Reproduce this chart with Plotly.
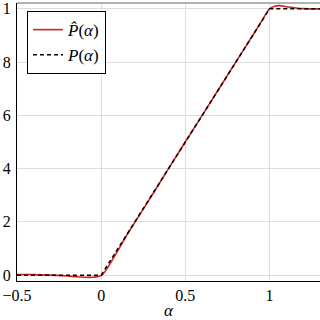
import plotly.graph_objects as go

# Data
alpha_true = [-0.5, 0.0, 1.0, 1.3]
p_true = [0.0, 0.0, 1.0, 1.0]

alpha_est = [-0.5, -0.4, -0.3, -0.2, -0.15, -0.1, -0.05, 0.0, 0.03, 0.06, 0.1, 0.15,
             0.2, 0.3, 0.4, 0.5, 0.6, 0.7, 0.8, 0.9, 0.95, 0.98, 1.0, 1.03, 1.06,
             1.1, 1.15, 1.2, 1.3]
p_est = [0.002, 0.002, 0.0, -0.003, -0.006, -0.008, -0.008, -0.002, 0.02, 0.05, 0.093,
         0.148, 0.198, 0.298, 0.4, 0.5, 0.6, 0.7, 0.8, 0.9, 0.95, 0.982, 1.0, 1.01,
         1.012, 1.008, 1.004, 1.001, 1.0]

x_ticks = [-0.5, 0, 0.5, 1]
x_labels = ["\u22120.5", "0", "0.5", "1"]
y_ticks = [0, 0.2, 0.4, 0.6, 0.8, 1]
y_labels = ["0", "2", "4", "6", "8", "1"]

font = "Times New Roman, Liberation Serif, serif"

fig = go.Figure()
fig.add_trace(go.Scatter(x=alpha_est, y=p_est, mode="lines", line_shape="spline",
                         line=dict(color="#d62020", width=1.6),
                         name="<i>P\u0302</i>(<i>\u03b1</i>)"))
fig.add_trace(go.Scatter(x=alpha_true, y=p_true, mode="lines",
                         line=dict(color="black", width=1.5, dash="4px,3px"),
                         name="<i>P</i>(<i>\u03b1</i>)"))

fig.update_layout(
    width=320, height=320,
    margin=dict(l=17, r=0, t=1, b=39),
    paper_bgcolor="white", plot_bgcolor="white",
    font=dict(family=font, size=16, color="black"),
    showlegend=True,
    legend=dict(x=0.033, y=0.971, xanchor="left", yanchor="top",
                bgcolor="white", bordercolor="black", borderwidth=1,
                font=dict(family=font, size=17), itemwidth=30,
                tracegroupgap=0),
    xaxis=dict(range=[-0.5, 1.3], tickvals=x_ticks, ticktext=x_labels,
               showgrid=True, gridcolor="#dddddd", gridwidth=1,
               zeroline=False, showline=True, linecolor="black", linewidth=1,
               ticks="", tickfont=dict(family=font, size=16),
               ticklabeloverflow="allow",
               title=dict(text="<i>\u03b1</i>", standoff=4, font=dict(family=font, size=17))),
    yaxis=dict(range=[-0.022, 1.022], tickvals=y_ticks, ticktext=y_labels,
               showgrid=True, gridcolor="#dddddd", gridwidth=1,
               zeroline=False, showline=True, linecolor="black", linewidth=1,
               ticks="", tickfont=dict(family=font, size=16), ticklabelstandoff=2,
               ticklabeloverflow="allow"),
)
fig.add_shape(type="line", xref="paper", yref="paper", x0=0, x1=1, y0=1, y1=1,
              line=dict(color="#999999", width=1.5))

fig.write_html("out.html")
